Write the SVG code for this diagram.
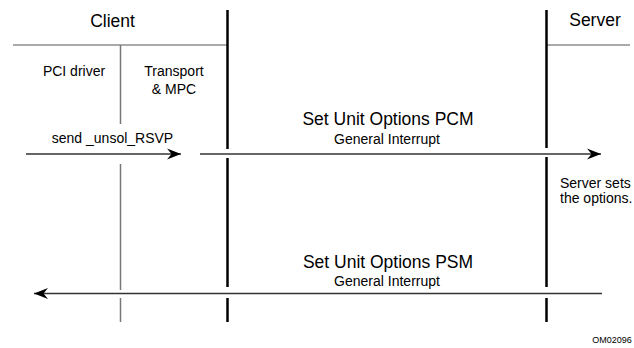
<svg xmlns="http://www.w3.org/2000/svg" width="634" height="348" viewBox="0 0 634 348">
<style>
text{font-family:"Liberation Sans",Arial,sans-serif;fill:#000}
.big{font-size:17.5px;text-anchor:middle}
.sm{font-size:14px}
.mid{text-anchor:middle}
.life{stroke:#000;stroke-width:2.5;fill:none}
.sub{stroke:#777;stroke-width:1.5;fill:none}
.hdr{stroke:#555;stroke-width:1;fill:none}
.msg{stroke:#333;stroke-width:1.3;fill:none}
</style>
<defs>
<marker id="ah" markerUnits="userSpaceOnUse" markerWidth="18" markerHeight="14" viewBox="-15 -7 17 14" refX="0" refY="0" orient="auto">
<path d="M0,0 L-14,-5.5 L-9.5,0 L-14,5.5 Z" fill="#000"/>
</marker>
</defs>
<g id="client">
<text class="big" x="112.5" y="27">Client</text>
<line class="hdr" x1="13" y1="45" x2="227" y2="45"/>
<line class="life" x1="227.5" y1="10" x2="227.5" y2="149"/>
<line class="life" x1="227.5" y1="158" x2="227.5" y2="287"/>
<line class="life" x1="227.5" y1="298" x2="227.5" y2="322"/>
</g>
<g id="pci-driver">
<text class="sm mid" x="74" y="76">PCI driver</text>
<line class="sub" x1="120.5" y1="45" x2="120.5" y2="124"/>
<line class="sub" x1="120.5" y1="164" x2="120.5" y2="290"/>
<line class="sub" x1="120.5" y1="298" x2="120.5" y2="322"/>
</g>
<g id="transport">
<text class="sm mid" x="174" y="76">Transport</text>
<text class="sm mid" x="174" y="94">&amp; MPC</text>
</g>
<g id="server">
<text class="big" x="595" y="26">Server</text>
<line class="hdr" x1="546" y1="45" x2="630" y2="45"/>
<line class="life" x1="546.5" y1="10" x2="546.5" y2="148"/>
<line class="life" x1="546.5" y1="157" x2="546.5" y2="287"/>
<line class="life" x1="546.5" y1="298" x2="546.5" y2="322"/>
<text class="sm" x="560" y="188">Server sets</text>
<text class="sm" x="560" y="203">the options.</text>
</g>
<g id="connectors">
<line class="msg" x1="26" y1="154" x2="181" y2="154" marker-end="url(#ah)"/>
<text class="sm mid" x="112.5" y="143">send _unsol_RSVP</text>
<line class="msg" x1="200" y1="154" x2="601" y2="154" marker-end="url(#ah)"/>
<text class="big" x="388" y="125">Set Unit Options PCM</text>
<text class="sm mid" x="387" y="144">General Interrupt</text>
<line class="msg" x1="602" y1="293.5" x2="34" y2="293.5" marker-end="url(#ah)"/>
<text class="big" x="388" y="268">Set Unit Options PSM</text>
<text class="sm mid" x="387" y="285.5">General Interrupt</text>
</g>
<text x="612" y="343" style="font-size:9px;text-anchor:middle">OM02096</text>
</svg>
